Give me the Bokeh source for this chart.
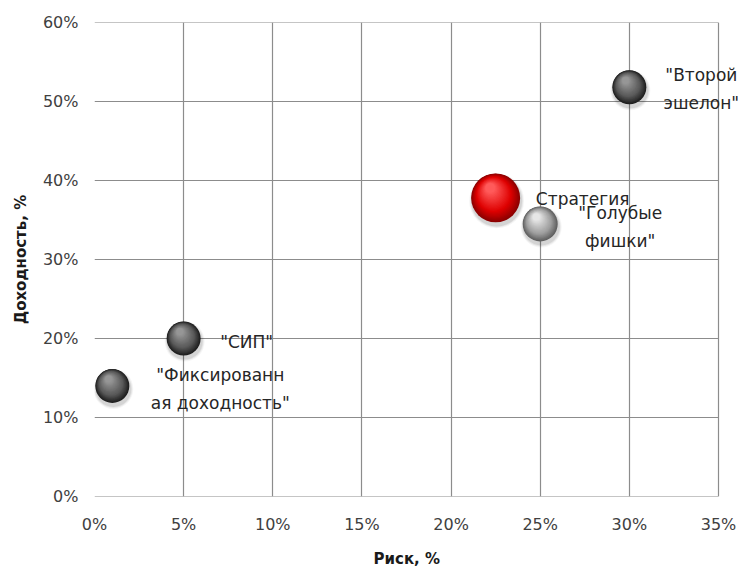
import numpy as np
from bokeh.plotting import figure
from bokeh.models import FixedTicker, NumeralTickFormatter, Range1d, ColumnDataSource, Title
from bokeh.core.properties import value
from bokeh.embed import file_html
from bokeh.resources import INLINE

# Portfolio strategies: risk vs. return
labels = ['"Фиксированн\nая доходность"', '"СИП"', 'Стратегия', '"Голубые\nфишки"', '"Второй\nэшелон"']
risk = [0.01, 0.05, 0.225, 0.25, 0.30]
returns = [0.14, 0.20, 0.378, 0.345, 0.518]

x_ticks = [0.0, 0.05, 0.10, 0.15, 0.20, 0.25, 0.30, 0.35]
y_ticks = [0.0, 0.10, 0.20, 0.30, 0.40, 0.50, 0.60]

# appearance of each bubble and its label
diameter = [34, 34, 49, 35, 34]
tone = ["dark", "dark", "red", "light", "dark"]
label_dx = [108, 63, 87, 80, 72]
label_dy = [3, 3, 1, 3, 2]

palettes = {
    # edge, body, highlight
    "dark": [(30, 30, 30), (88, 88, 88), (150, 150, 150)],
    "light": [(95, 95, 95), (158, 158, 158), (230, 230, 230)],
    "red": [(140, 0, 0), (222, 0, 0), (255, 90, 90)],
}

# the plotting area runs past the last tick so that labels beside the
# rightmost bubble are not cut at the 35% line
PLOT_W, EXTRA_W, FRAME_H = 624, 20, 474
X0, X1, Y0, Y1 = x_ticks[0], x_ticks[-1], y_ticks[0], y_ticks[-1]
px_x = (X1 - X0) / PLOT_W
px_y = (Y1 - Y0) / FRAME_H

p = figure(frame_width=PLOT_W + EXTRA_W, frame_height=FRAME_H,
           x_range=Range1d(X0, X1 + EXTRA_W * px_x), y_range=Range1d(Y0, Y1),
           output_backend="svg", toolbar_location=None,
           min_border_left=94, min_border_right=0,
           min_border_top=22, min_border_bottom=0,
           background_fill_color="white", border_fill_color="white")
p.outline_line_color = None

grid_col = "#8c8c8c"
p.xgrid.ticker = FixedTicker(ticks=x_ticks)
p.xgrid.grid_line_color = grid_col
p.xgrid.grid_line_width = 1.2
p.ygrid.grid_line_color = None
# horizontal grid lines limited to the 0..35% span
p.segment(x0=[X0] * len(y_ticks), x1=[X1] * len(y_ticks), y0=y_ticks, y1=y_ticks,
          line_color=grid_col, line_width=1.2, level="underlay")

for ax, ticks in ((p.xaxis, x_ticks), (p.yaxis, y_ticks)):
    ax.ticker = FixedTicker(ticks=ticks)
    ax.formatter = NumeralTickFormatter(format="0%")
    ax.axis_line_color = None
    ax.major_tick_line_color = None
    ax.minor_tick_line_color = None
    ax.major_tick_in = 0
    ax.major_tick_out = 0
    ax.major_label_text_font = "DejaVu Sans"
    ax.major_label_text_font_size = "16px"
    ax.major_label_text_color = "#404040"
    ax.axis_label_text_font = "DejaVu Sans"
    ax.axis_label_text_font_size = "15px"
    ax.axis_label_text_font_style = "bold"
    ax.axis_label_text_color = "#1a1a1a"

p.xaxis.major_label_standoff = 18
p.yaxis.axis_label = "Доходность, %"
p.yaxis.major_label_standoff = 16
p.yaxis.axis_label_standoff = 10

# x-axis title centred under the 0..35% span (not the wider frame)
TITLE_PAD = 6
p.add_layout(Title(text="Риск, %", align="left", offset=PLOT_W / 2 - 33 - TITLE_PAD,
                   text_font="DejaVu Sans", text_font_size="15px",
                   text_font_style="bold", text_color="#1a1a1a",
                   padding=TITLE_PAD, standoff=10), "below")


def mix(a, b, t):
    return "#%02x%02x%02x" % tuple(int(round(a[i] + (b[i] - a[i]) * t)) for i in range(3))


def shade(pal, t):
    if t < 0.35:
        return mix(pal[0], pal[1], t / 0.35)
    return mix(pal[1], pal[2], (t - 0.35) / 0.65)


# soft drop shadows
for grow, alpha in [(6, 0.04), (4, 0.06), (2, 0.08)]:
    p.scatter(x=[r + 1.0 * px_x for r in risk],
              y=[v - 3.0 * px_y for v in returns],
              size=[d + grow for d in diameter],
              fill_color="#000000", fill_alpha=alpha, line_color=None)

# shaded spheres: stacked circles shrinking toward an upper-left highlight
N = 24
for i in range(N):
    t = i / (N - 1)
    xs, ys, sz, cols = [], [], [], []
    for r, v, d, tn in zip(risk, returns, diameter, tone):
        R = d / 2.0
        rad = R * (1 - 0.8 * t)
        off_x = -0.22 * R * t
        off_y = -0.40 * R * t  # screen pixels, negative = upward
        xs.append(r + off_x * px_x)
        ys.append(v - off_y * px_y)
        sz.append(2 * rad)
        cols.append(shade(palettes[tn], t))
    p.scatter(x=xs, y=ys, size=sz, fill_color=cols, line_color=None)

src = ColumnDataSource(dict(x=risk, y=returns, text=labels, dx=label_dx, dy=label_dy))
p.text(x="x", y="y", text="text", x_offset="dx", y_offset="dy", source=src,
       text_font=value("DejaVu Sans"), text_font_size="17px",
       text_color="#262626", text_align="center", text_baseline="middle",
       text_line_height=1.4)

open("out.html", "w").write(file_html(p, INLINE))
